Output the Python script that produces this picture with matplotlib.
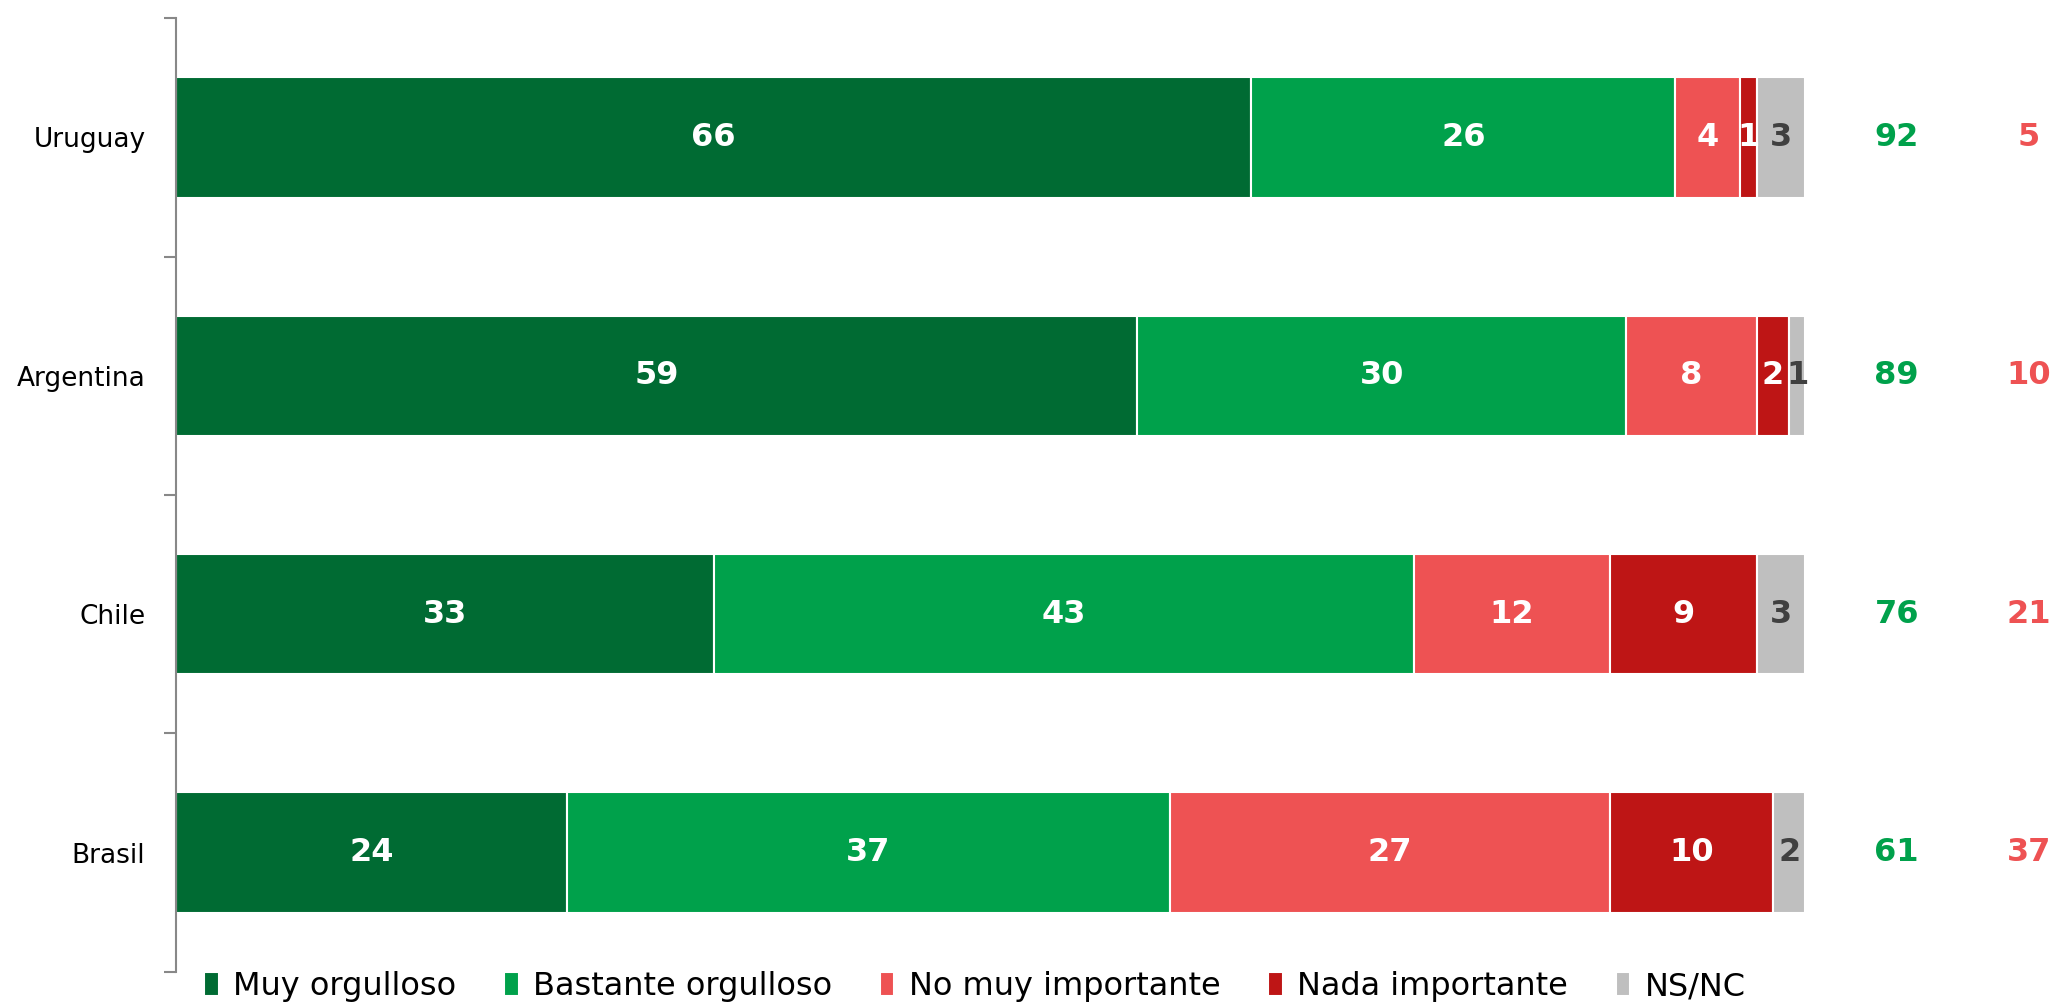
import numpy as np
import matplotlib
matplotlib.use("Agg")
import matplotlib.pyplot as plt

paises = ['Uruguay', 'Argentina', 'Chile', 'Brasil']
categorias = ['Muy orgulloso', 'Bastante orgulloso', 'No muy importante', 'Nada importante', 'NS/NC']
muy_orgulloso = [66, 59, 33, 24]
bastante_orgulloso = [26, 30, 43, 37]
no_muy_importante = [4, 8, 12, 27]
nada_importante = [1, 2, 9, 10]
ns_nc = [3, 1, 3, 2]
total_positivo = [92, 89, 76, 61]
total_negativo = [5, 10, 21, 37]

colores = ['#006B33', '#00A14B', '#EE5253', '#BE1515', '#BFBFBF']
color_txt = ['white', 'white', 'white', 'white', '#404040']

plt.rcParams['font.family'] = ['DejaVu Sans']

fig = plt.figure(figsize=(20.54, 10.08), dpi=100)
ax = fig.add_axes([0.0857, 0.036, 0.879 - 0.0857, 0.946])

series = [muy_orgulloso, bastante_orgulloso, no_muy_importante, nada_importante, ns_nc]
ypos = np.arange(len(paises))
left = np.zeros(len(paises))
for i, vals in enumerate(series):
    vals = np.array(vals, dtype=float)
    ax.barh(ypos, vals, left=left, height=0.505, color=colores[i],
            edgecolor='white', linewidth=1.5, label=categorias[i])
    for j, v in enumerate(vals):
        ax.text(left[j] + v / 2, ypos[j], '%d' % v, ha='center', va='center',
                color=color_txt[i], fontsize=23, fontweight='bold')
    left += vals

for j in range(len(paises)):
    ax.text(105.6, ypos[j], str(total_positivo[j]), ha='center', va='center',
            color='#00A14B', fontsize=23, fontweight='bold', clip_on=False)
    ax.text(113.7, ypos[j], str(total_negativo[j]), ha='center', va='center',
            color='#EE5253', fontsize=23, fontweight='bold', clip_on=False)

ax.set_xlim(0, 100)
ax.set_ylim(3.5, -0.5)
ax.set_yticks(ypos)
ax.set_yticklabels(paises, fontsize=19)
ax.tick_params(axis='y', which='major', length=0, pad=22)
ax.set_yticks(np.arange(-0.5, 4, 1), minor=True)
ax.tick_params(axis='y', which='minor', length=9, width=1.5, color='#888888', direction='out')
ax.set_xticks([])
for s in ['top', 'right', 'bottom']:
    ax.spines[s].set_visible(False)
ax.spines['left'].set_color('#888888')
ax.spines['left'].set_linewidth(1.5)

fig.legend(*ax.get_legend_handles_labels(), loc='center', bbox_to_anchor=(975 / 2054, 0.021),
           ncol=5, frameon=False, fontsize=23, handlelength=0.45, handleheight=0.8,
           handletextpad=0.45, columnspacing=1.5, borderaxespad=0, borderpad=0)

fig.savefig('out.png', dpi=100)
